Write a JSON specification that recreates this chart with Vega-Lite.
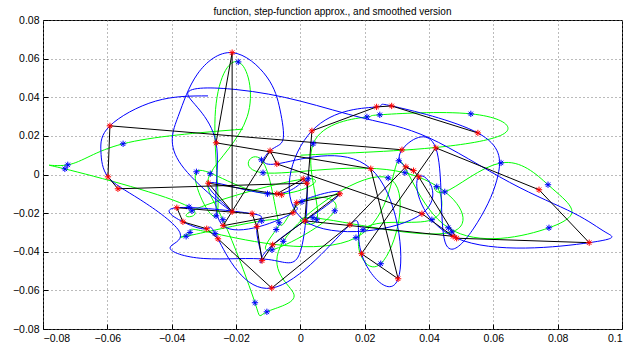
{
  "$schema": "https://vega.github.io/schema/vega-lite/v6.json",
  "autosize": "none",
  "width": 579,
  "height": 309,
  "padding": {"left": 43, "top": 20, "right": 9, "bottom": 13},
  "background": "white",
  "config": {
    "view": {"stroke": "black", "strokeWidth": 1},
    "font": "Liberation Sans",
    "axis": {
      "grid": true, "gridColor": "#777", "gridDash": [1, 3], "gridOpacity": 1, "gridWidth": 1,
      "domain": false, "ticks": true, "tickColor": "black", "tickSize": -5, "tickWidth": 1,
      "labelFont": "Liberation Sans", "labelFontSize": 10.5, "labelColor": "black",
      "labelPadding": 9, "title": null
    }
  },
  "title": {"text": "function, step-function approx., and smoothed version", "fontSize": 10, "fontWeight": "normal", "font": "Liberation Sans", "offset": 4, "dy": 6, "anchor": "middle", "color": "black"},
  "datasets": {
    "red": [
      {"i": 1, "x": 0.0316, "y": 0.0128}, {"i": 2, "x": -0.0592, "y": 0.0252}, {"i": 3, "x": -0.0598, "y": -0.0012},
      {"i": 4, "x": -0.0567, "y": -0.0074}, {"i": 5, "x": 0.002, "y": -0.0045}, {"i": 6, "x": 0.0009, "y": -0.0023},
      {"i": 7, "x": -0.0073, "y": -0.010}, {"i": 8, "x": -0.0058, "y": -0.0105}, {"i": 9, "x": -0.0286, "y": -0.0045},
      {"i": 10, "x": -0.0212, "y": -0.0193}, {"i": 11, "x": -0.0212, "y": 0.0631}, {"i": 12, "x": -0.0262, "y": 0.0164},
      {"i": 13, "x": 0.0219, "y": 0.003}, {"i": 14, "x": 0.0304, "y": -0.054}, {"i": 15, "x": 0.019, "y": -0.041},
      {"i": 16, "x": 0.0421, "y": 0.0138}, {"i": 17, "x": 0.0742, "y": -0.0079}, {"i": 18, "x": 0.0898, "y": -0.0353},
      {"i": 19, "x": 0.0486, "y": -0.033}, {"i": 20, "x": 0.0368, "y": -0.0012}, {"i": 21, "x": 0.0352, "y": 0.002},
      {"i": 22, "x": 0.0328, "y": 0.004}, {"i": 23, "x": 0.0154, "y": -0.026}, {"i": 24, "x": -0.0089, "y": -0.0588},
      {"i": 25, "x": -0.0256, "y": -0.0333}, {"i": 26, "x": -0.0291, "y": -0.0281}, {"i": 27, "x": -0.0365, "y": -0.0245},
      {"i": 28, "x": -0.0384, "y": -0.0172}, {"i": 29, "x": -0.015, "y": -0.0203}, {"i": 30, "x": -0.0135, "y": -0.027},
      {"i": 31, "x": -0.0119, "y": -0.0446}, {"i": 32, "x": -0.0086, "y": -0.0364}, {"i": 33, "x": 0.0123, "y": -0.010},
      {"i": 34, "x": -0.0011, "y": -0.0146}, {"i": 35, "x": -0.0023, "y": -0.0198}, {"i": 36, "x": -0.024, "y": -0.0265},
      {"i": 37, "x": -0.0094, "y": 0.0123}, {"i": 38, "x": -0.0073, "y": 0.0055}, {"i": 39, "x": 0.0378, "y": -0.0203},
      {"i": 40, "x": 0.0475, "y": -0.032}, {"i": 41, "x": 0.0014, "y": -0.024}, {"i": 42, "x": 0.0036, "y": 0.0226},
      {"i": 43, "x": 0.0237, "y": 0.035}, {"i": 44, "x": 0.0284, "y": 0.0355}, {"i": 45, "x": 0.0552, "y": 0.0215}
    ],
    "smooth": [
      {"i": 1, "x": -0.0287, "y": 0.0407}, {"i": 2, "x": -0.045, "y": 0.038}, {"i": 3, "x": -0.0592, "y": 0.0252},
      {"i": 4, "x": -0.062, "y": 0.012}, {"i": 5, "x": -0.0598, "y": -0.0012}, {"i": 6, "x": -0.0498, "y": -0.013},
      {"i": 7, "x": -0.0374, "y": -0.0302}, {"i": 8, "x": -0.0405, "y": -0.038}, {"i": 9, "x": -0.030, "y": -0.0435},
      {"i": 10, "x": -0.010, "y": -0.044}, {"i": 11, "x": 0.0, "y": -0.040}, {"i": 12, "x": 0.002, "y": -0.0045},
      {"i": 13, "x": -0.0073, "y": -0.010}, {"i": 14, "x": -0.0286, "y": -0.0045}, {"i": 15, "x": -0.0212, "y": -0.0193},
      {"i": 16, "x": -0.037, "y": 0.005}, {"i": 17, "x": -0.038, "y": 0.03}, {"i": 18, "x": -0.032, "y": 0.052},
      {"i": 19, "x": -0.0212, "y": 0.0631}, {"i": 20, "x": -0.0104, "y": 0.0505}, {"i": 21, "x": -0.0063, "y": 0.0334},
      {"i": 22, "x": -0.0054, "y": 0.018}, {"i": 23, "x": -0.0094, "y": 0.0123}, {"i": 24, "x": -0.0073, "y": 0.0055},
      {"i": 25, "x": 0.0219, "y": 0.003}, {"i": 26, "x": 0.0304, "y": -0.054}, {"i": 27, "x": 0.019, "y": -0.041},
      {"i": 28, "x": 0.0154, "y": -0.026}, {"i": 29, "x": -0.0089, "y": -0.0588}, {"i": 30, "x": -0.0256, "y": -0.0333},
      {"i": 31, "x": -0.0291, "y": -0.0281}, {"i": 32, "x": -0.0365, "y": -0.0245}, {"i": 33, "x": -0.0384, "y": -0.0172},
      {"i": 34, "x": -0.015, "y": -0.0203}, {"i": 35, "x": -0.0135, "y": -0.027}, {"i": 36, "x": -0.0119, "y": -0.0446},
      {"i": 37, "x": -0.0086, "y": -0.0364}, {"i": 38, "x": 0.0123, "y": -0.010}, {"i": 39, "x": -0.0011, "y": -0.0146},
      {"i": 40, "x": -0.0023, "y": -0.0198}, {"i": 41, "x": -0.024, "y": -0.0265}, {"i": 42, "x": -0.0262, "y": 0.0164},
      {"i": 43, "x": -0.035, "y": 0.042}, {"i": 44, "x": -0.02, "y": 0.044}, {"i": 45, "x": 0.0, "y": 0.038},
      {"i": 46, "x": 0.02, "y": 0.029}, {"i": 47, "x": 0.04, "y": 0.019}, {"i": 48, "x": 0.065, "y": -0.004},
      {"i": 49, "x": 0.085, "y": -0.02}, {"i": 50, "x": 0.095, "y": -0.03}, {"i": 51, "x": 0.0898, "y": -0.0353},
      {"i": 52, "x": 0.0486, "y": -0.033}, {"i": 53, "x": 0.0368, "y": -0.0012}, {"i": 54, "x": 0.0378, "y": -0.0203},
      {"i": 55, "x": 0.0014, "y": -0.024}, {"i": 56, "x": 0.0036, "y": 0.0226}, {"i": 57, "x": 0.0237, "y": 0.035},
      {"i": 58, "x": 0.0284, "y": 0.0355}, {"i": 59, "x": 0.0552, "y": 0.0215}, {"i": 60, "x": 0.0615, "y": 0.0},
      {"i": 61, "x": 0.055, "y": -0.025}, {"i": 62, "x": 0.045, "y": -0.035}, {"i": 63, "x": 0.0421, "y": 0.0138},
      {"i": 64, "x": 0.0316, "y": 0.0128}, {"i": 65, "x": 0.0328, "y": 0.004}, {"i": 66, "x": 0.0352, "y": 0.002}
    ],
    "fn": [
      {"i": 0, "s": 0, "x": -0.0178, "y": 0.0235},
      {"i": 1, "s": 1, "x": -0.0551, "y": 0.0159},
      {"i": 2, "s": 1, "x": -0.0723, "y": 0.005},
      {"i": 3, "s": 1, "x": -0.0732, "y": 0.0029},
      {"i": 4, "s": 1, "x": -0.0346, "y": -0.0168},
      {"i": 5, "s": 1, "x": -0.0337, "y": -0.0188},
      {"i": 6, "s": 1, "x": 0.0024, "y": -0.0022},
      {"i": 7, "s": 1, "x": -0.0102, "y": -0.010},
      {"i": 8, "s": 1, "x": -0.0323, "y": 0.0014},
      {"i": 9, "s": 1, "x": -0.0262, "y": -0.0214},
      {"i": 9.5, "s": 0, "x": -0.0265, "y": 0.03},
      {"i": 10, "s": 1, "x": -0.0193, "y": 0.0583},
      {"i": 10.5, "s": 0, "x": -0.0165, "y": 0.03},
      {"i": 11, "s": 1, "x": -0.028, "y": 0.0004},
      {"i": 12, "s": 1, "x": -0.0241, "y": -0.0234},
      {"i": 13, "s": 1, "x": -0.0141, "y": -0.0664},
      {"i": 14, "s": 1, "x": -0.0104, "y": -0.0711},
      {"i": 14.5, "s": 0, "x": -0.002, "y": -0.062},
      {"i": 15, "s": 1, "x": -0.0053, "y": -0.0346},
      {"i": 16, "s": 1, "x": 0.0273, "y": -0.0018},
      {"i": 17, "s": 1, "x": 0.025, "y": -0.0462},
      {"i": 18, "s": 1, "x": 0.0195, "y": -0.0286},
      {"i": 19, "s": 1, "x": 0.0409, "y": -0.0234},
      {"i": 20, "s": 1, "x": 0.0424, "y": -0.0063},
      {"i": 21, "s": 1, "x": 0.0449, "y": -0.009},
      {"i": 21.2, "s": 1, "x": 0.0624, "y": 0.006},
      {"i": 21.4, "s": 1, "x": 0.077, "y": -0.0053},
      {"i": 21.5, "s": 0, "x": 0.084, "y": -0.0168},
      {"i": 21.6, "s": 1, "x": 0.0773, "y": -0.0276},
      {"i": 21.8, "s": 1, "x": 0.046, "y": -0.0276},
      {"i": 22, "s": 1, "x": 0.0306, "y": 0.0071},
      {"i": 23, "s": 1, "x": 0.0173, "y": -0.0327},
      {"i": 24, "s": 1, "x": -0.0265, "y": -0.0306},
      {"i": 25, "s": 1, "x": -0.0343, "y": -0.030},
      {"i": 26, "s": 1, "x": -0.0355, "y": -0.032},
      {"i": 27, "s": 1, "x": -0.012, "y": -0.024},
      {"i": 28, "s": 1, "x": -0.0075, "y": -0.0285},
      {"i": 29, "s": 1, "x": -0.0088, "y": -0.039},
      {"i": 30, "s": 1, "x": 0.0107, "y": -0.0188},
      {"i": 31, "s": 1, "x": 0.0005, "y": -0.0141},
      {"i": 32, "s": 1, "x": -0.0066, "y": -0.025},
      {"i": 33, "s": 1, "x": -0.0121, "y": 0.0076},
      {"i": 34, "s": 1, "x": -0.0116, "y": 0.0009},
      {"i": 35, "s": 1, "x": 0.0325, "y": 0.0009},
      {"i": 36, "s": 1, "x": 0.0471, "y": -0.0297},
      {"i": 37, "s": 1, "x": 0.0039, "y": -0.0224},
      {"i": 38, "s": 1, "x": 0.0051, "y": -0.0234},
      {"i": 39, "s": 1, "x": 0.004, "y": 0.0159},
      {"i": 40, "s": 1, "x": 0.0207, "y": 0.0298},
      {"i": 41, "s": 1, "x": 0.0247, "y": 0.0309},
      {"i": 42, "s": 1, "x": 0.053, "y": 0.0314},
      {"i": 42.5, "s": 0, "x": 0.064, "y": 0.022},
      {"i": 42.6, "s": 0, "x": 0.045, "y": 0.0145},
      {"i": 42.7, "s": 0, "x": 0.02, "y": 0.0115},
      {"i": 42.8, "s": 0, "x": 0.0, "y": 0.01}
    ]
  },
  "encoding": {
    "x": {"field": "x", "type": "quantitative", "scale": {"domain": [-0.08, 0.1], "nice": false, "zero": false},
          "axis": {"values": [-0.08, -0.06, -0.04, -0.02, 0, 0.02, 0.04, 0.06, 0.08, 0.1], "format": "~g"}},
    "y": {"field": "y", "type": "quantitative", "scale": {"domain": [-0.08, 0.08], "nice": false, "zero": false},
          "axis": {"values": [-0.08, -0.06, -0.04, -0.02, 0, 0.02, 0.04, 0.06, 0.08], "format": "~g"}}
  },
  "layer": [
    {"data": {"name": "fn"}, "mark": {"type": "line", "interpolate": "natural", "color": "#00ff00", "strokeWidth": 1, "clip": true},
     "encoding": {"order": {"field": "i", "type": "quantitative"}}},
    {"data": {"name": "smooth"}, "mark": {"type": "line", "interpolate": "natural", "color": "#0000ff", "strokeWidth": 1, "clip": true},
     "encoding": {"order": {"field": "i", "type": "quantitative"}}},
    {"data": {"name": "red"}, "mark": {"type": "line", "color": "black", "strokeWidth": 1, "clip": true},
     "encoding": {"order": {"field": "i", "type": "quantitative"}}},
    {"data": {"name": "red"}, "mark": {"type": "point", "shape": "M-1,0L1,0M0,-1L0,1M-0.7,-0.7L0.7,0.7M-0.7,0.7L0.7,-0.7", "filled": false, "color": "#ff0000", "strokeWidth": 1, "size": 40, "opacity": 1}},
    {"data": {"name": "fn"}, "transform": [{"filter": "datum.s == 1"}],
     "mark": {"type": "point", "shape": "M-1,0L1,0M0,-1L0,1M-0.7,-0.7L0.7,0.7M-0.7,0.7L0.7,-0.7", "filled": false, "color": "#0000ff", "strokeWidth": 1, "size": 40, "opacity": 1}}
  ]
}
